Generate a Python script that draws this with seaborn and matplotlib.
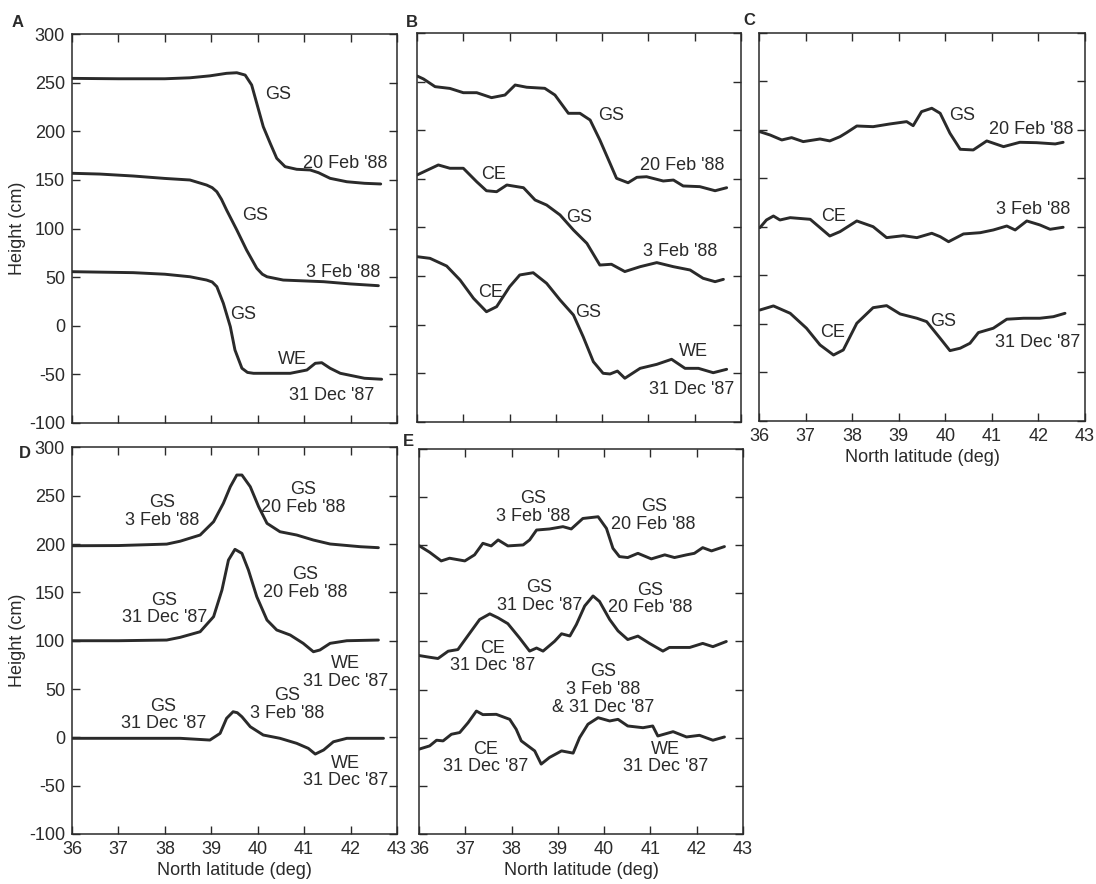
import matplotlib
matplotlib.use("Agg")
import matplotlib.pyplot as plt
import pandas as pd
import seaborn as sns

# ---------------- profile data: latitude (deg N) and height (cm) ----------------
# Panel A
A_20FEB_LAT = [36.0, 37.0, 38.0, 38.54, 38.97, 39.33, 39.55, 39.73, 39.87, 39.98, 40.12, 40.27, 40.41, 40.59, 40.84, 41.13, 41.31, 41.56, 41.92, 42.3, 42.65]
A_20FEB_H = [254.4, 254, 254, 255, 257, 259.6, 260.2, 257.8, 247.6, 228.7, 204.7, 187.6, 172.2, 163.6, 160.9, 160.2, 157.4, 151.6, 148.1, 146.5, 145.8]
A_3FEB_LAT = [36.0, 36.6, 37.32, 38.0, 38.54, 38.9, 39.02, 39.12, 39.22, 39.33, 39.55, 39.76, 39.98, 40.1, 40.2, 40.55, 41.42, 42.0, 42.6]
A_3FEB_H = [156.8, 156, 154, 151.5, 149.9, 144.7, 142, 137.8, 130, 119, 98.5, 77.9, 59.1, 53, 50.4, 47, 45.3, 43, 41.2]
A_31DEC_LAT = [36.0, 36.8, 37.32, 38.0, 38.54, 38.9, 39.02, 39.12, 39.26, 39.41, 39.51, 39.66, 39.78, 39.91, 40.7, 41.06, 41.24, 41.38, 41.56, 41.78, 42.3, 42.67]
A_31DEC_H = [55.6, 55, 54.6, 53, 50.4, 47, 45, 40.2, 23.1, -0.9, -24.9, -43.7, -48, -48.9, -48.9, -45.5, -38.6, -38, -43.7, -48.9, -54, -55]

# Panel B
B_20FEB_LAT = [36.0, 36.14, 36.39, 36.71, 37.0, 37.29, 37.61, 37.9, 38.12, 38.37, 38.76, 38.98, 39.27, 39.52, 39.74, 39.95, 40.17, 40.31, 40.56, 40.75, 40.96, 41.32, 41.54, 41.75, 42.11, 42.44, 42.69]
B_20FEB_H = [255.8, 252.7, 244.8, 243, 238.6, 238.6, 233.5, 236.2, 246.5, 244.2, 243.1, 236.2, 217.4, 217.4, 210.5, 190, 166, 150.6, 146, 151.6, 152.2, 147.8, 148.8, 142.7, 142, 137.8, 140.9]
B_3FEB_LAT = [36.0, 36.46, 36.71, 37.0, 37.29, 37.5, 37.72, 37.94, 38.3, 38.55, 38.8, 39.09, 39.38, 39.67, 39.95, 40.2, 40.49, 40.82, 41.18, 41.54, 41.9, 42.18, 42.44, 42.62]
B_3FEB_H = [154, 164.3, 160.9, 160.9, 147, 137.8, 136.8, 143.7, 140.9, 128.3, 123.1, 112.9, 97.4, 83.7, 61.4, 62.2, 54.7, 59.7, 63.9, 59.7, 56.3, 47.8, 44.3, 46.7]
B_31DEC_LAT = [36.0, 36.28, 36.64, 36.93, 37.22, 37.5, 37.72, 38.0, 38.22, 38.51, 38.8, 39.09, 39.38, 39.59, 39.81, 40.02, 40.17, 40.33, 40.49, 40.82, 41.18, 41.5, 41.79, 42.08, 42.4, 42.69]
B_31DEC_H = [70, 68.3, 60.4, 46, 27.2, 13.4, 18.6, 39.1, 51.2, 53.5, 42.6, 25.5, 10, -12.3, -38, -49.9, -50.6, -47.6, -55, -44.8, -40.7, -35.5, -44.8, -44.8, -49.3, -45.8]

# Panel C
C_20FEB_LAT = [36.02, 36.24, 36.49, 36.7, 36.95, 37.31, 37.52, 37.74, 37.88, 38.1, 38.45, 38.81, 39.17, 39.31, 39.49, 39.71, 39.89, 40.1, 40.32, 40.6, 40.89, 41.25, 41.6, 41.96, 42.36, 42.53]
C_20FEB_H = [198.2, 194.8, 189.7, 192.1, 188, 190.7, 188.7, 193.1, 197.2, 204.1, 203.4, 206.2, 208.6, 204.4, 218.9, 222.4, 217.2, 196.6, 180.1, 179.4, 188.7, 182.8, 187.3, 186.9, 185.6, 187.3]
C_3FEB_LAT = [36.02, 36.16, 36.31, 36.45, 36.67, 37.1, 37.31, 37.52, 37.74, 38.1, 38.45, 38.74, 39.1, 39.39, 39.71, 39.89, 40.07, 40.39, 40.75, 41.03, 41.32, 41.5, 41.75, 42.03, 42.25, 42.53]
C_3FEB_H = [99.3, 107.2, 111.3, 107.2, 109.6, 107.9, 99.3, 90.7, 95.2, 106.2, 100.3, 89, 91, 89, 93.5, 90, 84.8, 92.8, 94.1, 96.9, 101, 96.9, 106.2, 102.1, 97.6, 99.7]
C_31DEC_LAT = [36.02, 36.31, 36.67, 37.02, 37.31, 37.6, 37.81, 38.1, 38.45, 38.74, 39.03, 39.39, 39.6, 39.89, 40.1, 40.32, 40.53, 40.71, 41.03, 41.32, 41.68, 42.03, 42.32, 42.57]
C_31DEC_H = [14.4, 18.6, 11, -4.4, -21.6, -32, -26.8, 0.7, 16.8, 18.9, 10.3, 5.9, 2.4, -14.8, -27.5, -25, -19.9, -8.9, -4.4, 4.9, 5.9, 5.9, 7.5, 11]

# Panel D
D_TOP_LAT = [36.01, 37.0, 38.04, 38.33, 38.76, 39.05, 39.26, 39.41, 39.55, 39.66, 39.84, 40.02, 40.2, 40.48, 40.84, 41.2, 41.56, 42.21, 42.6]
D_TOP_H = [198.3, 198.5, 200, 203, 209.4, 223.2, 242.2, 259.4, 271.5, 271.5, 259.4, 238.7, 221.5, 212.8, 209.4, 204.2, 200.1, 197.3, 196.3]
D_MID_LAT = [36.01, 37.0, 38.04, 38.33, 38.76, 39.05, 39.23, 39.37, 39.51, 39.66, 39.8, 39.98, 40.2, 40.41, 40.7, 40.98, 41.2, 41.34, 41.56, 41.92, 42.6]
D_MID_H = [100, 100, 100.7, 103.5, 109.3, 124.9, 152.5, 183.5, 194.6, 190.4, 173.2, 145.6, 121.4, 111.1, 105.9, 97.3, 88.6, 90.4, 97.3, 100, 100.7]
D_BOT_LAT = [36.01, 37.0, 38.0, 38.33, 38.97, 39.19, 39.33, 39.47, 39.56, 39.66, 39.84, 40.12, 40.48, 40.84, 41.09, 41.24, 41.42, 41.63, 41.92, 42.71]
D_BOT_H = [-1, -1, -1, -1, -2.8, 4.1, 19.7, 26.5, 25.5, 21.3, 11, 2.4, -1, -6.2, -11.4, -17.3, -13.1, -4.6, -1, -1]

# Panel E
E_TOP_LAT = [36.0, 36.23, 36.48, 36.66, 36.99, 37.2, 37.38, 37.56, 37.71, 37.92, 38.25, 38.39, 38.54, 38.82, 39.11, 39.29, 39.54, 39.87, 40.05, 40.19, 40.33, 40.51, 40.73, 41.02, 41.31, 41.52, 41.78, 41.95, 42.13, 42.32, 42.6]
E_TOP_H = [199.6, 192.7, 183.7, 186.5, 183.7, 190, 202, 199.3, 205.5, 199.3, 200.3, 205.5, 215.8, 216.9, 219.3, 216.9, 227.8, 229.6, 217.5, 196.8, 188.2, 187.2, 191.6, 185.8, 190, 187.2, 190, 191.6, 197.5, 194.1, 198.6]
E_MID_LAT = [36.0, 36.23, 36.41, 36.63, 36.84, 37.1, 37.31, 37.53, 37.71, 37.92, 38.17, 38.39, 38.54, 38.68, 38.93, 39.08, 39.26, 39.4, 39.58, 39.76, 39.9, 40.12, 40.3, 40.51, 40.73, 40.98, 41.27, 41.41, 41.85, 42.13, 42.35, 42.64]
E_MID_H = [85.4, 83.6, 82.3, 89.9, 91.6, 108.9, 122.8, 128.7, 124.5, 118.5, 103.8, 90, 93.2, 90, 100.2, 108, 105.7, 117.6, 136.9, 147.3, 141.6, 122.8, 111, 102, 105.6, 98, 90, 93.8, 93.8, 98, 94.6, 100]
E_BOT_LAT = [36.0, 36.23, 36.38, 36.52, 36.7, 36.88, 37.06, 37.24, 37.38, 37.67, 37.96, 38.1, 38.21, 38.5, 38.64, 38.82, 39.08, 39.33, 39.47, 39.65, 39.87, 40.12, 40.3, 40.51, 40.84, 41.05, 41.16, 41.49, 41.78, 42.06, 42.35, 42.6]
E_BOT_H = [-11.9, -8.5, -2.6, -3.3, 3.6, 5.4, 15.6, 27.7, 24, 24.3, 19.1, 8.8, -3.3, -13.7, -27.4, -20.5, -13.7, -16, 0.1, 14, 20.8, 17.4, 19.1, 12.2, 10.4, 12.2, 1.8, 6.3, 0.8, 2.5, -2.6, 0.8]

X_TICKS = [36, 37, 38, 39, 40, 41, 42, 43]
Y_TICKS = [-100, -50, 0, 50, 100, 150, 200, 250, 300]
X_LABEL = "North latitude (deg)"
Y_LABEL = "Height (cm)"

PANELS = {
    "A": [("20 Feb '88", A_20FEB_LAT, A_20FEB_H), ("3 Feb '88", A_3FEB_LAT, A_3FEB_H), ("31 Dec '87", A_31DEC_LAT, A_31DEC_H)],
    "B": [("20 Feb '88", B_20FEB_LAT, B_20FEB_H), ("3 Feb '88", B_3FEB_LAT, B_3FEB_H), ("31 Dec '87", B_31DEC_LAT, B_31DEC_H)],
    "C": [("20 Feb '88", C_20FEB_LAT, C_20FEB_H), ("3 Feb '88", C_3FEB_LAT, C_3FEB_H), ("31 Dec '87", C_31DEC_LAT, C_31DEC_H)],
    "D": [("top", D_TOP_LAT, D_TOP_H), ("middle", D_MID_LAT, D_MID_H), ("bottom", D_BOT_LAT, D_BOT_H)],
    "E": [("top", E_TOP_LAT, E_TOP_H), ("middle", E_MID_LAT, E_MID_H), ("bottom", E_BOT_LAT, E_BOT_H)],
}

# feature labels placed in data coordinates (latitude, height)
LABELS = {
    "A": [("GS", 40.44, 238), ("20 Feb '88", 41.88, 167), ("GS", 39.94, 113), ("3 Feb '88", 41.84, 55),
          ("GS", 39.69, 12), ("WE", 40.74, -35), ("31 Dec '87", 41.6, -72)],
    "B": [("GS", 40.2, 215), ("20 Feb '88", 41.72, 164), ("CE", 37.65, 154), ("GS", 39.51, 110),
          ("3 Feb '88", 41.68, 75), ("CE", 37.58, 33), ("GS", 39.7, 13), ("WE", 41.97, -28),
          ("31 Dec '87", 41.93, -67)],
    "C": [("GS", 40.37, 215), ("20 Feb '88", 41.84, 200), ("CE", 37.61, 111), ("3 Feb '88", 41.89, 118),
          ("CE", 37.58, -9), ("GS", 39.96, 3), ("31 Dec '87", 41.98, -19)],
    "D": [("GS\n3 Feb '88", 37.95, 234), ("GS\n20 Feb '88", 40.98, 247), ("GS\n31 Dec '87", 37.99, 133),
          ("GS\n20 Feb '88", 41.03, 159), ("WE\n31 Dec '87", 41.9, 67), ("GS\n3 Feb '88", 40.63, 34),
          ("GS\n31 Dec '87", 37.97, 23), ("WE\n31 Dec '87", 41.9, -36)],
    "E": [("GS\n3 Feb '88", 38.46, 239), ("GS\n20 Feb '88", 41.07, 231), ("GS\n31 Dec '87", 38.6, 147),
          ("GS\n20 Feb '88", 41.0, 144), ("CE\n31 Dec '87", 37.59, 84), ("GS\n3 Feb '88\n& 31 Dec '87", 39.97, 50),
          ("CE\n31 Dec '87", 37.44, -21), ("WE\n31 Dec '87", 41.33, -21)],
}

# ---------------- styling ----------------
INK = "#2a2a2a"
sns.set_theme(style="ticks")
plt.rcParams["font.family"] = ["Liberation Sans", "DejaVu Sans"]
plt.rcParams["axes.unicode_minus"] = False
plt.rcParams["text.color"] = INK
plt.rcParams["axes.labelcolor"] = INK
plt.rcParams["xtick.color"] = INK
plt.rcParams["ytick.color"] = INK
plt.rcParams["axes.edgecolor"] = INK

FS = 13
fig = plt.figure(figsize=(10.96, 8.84), dpi=100)
fig.patch.set_facecolor("white")

# axes rectangles [left, bottom, width, height] in figure fractions
RECTS = {
    "A": [0.0657, 0.5215, 0.2965, 0.4400],
    "B": [0.3805, 0.5226, 0.2956, 0.4401],
    "C": [0.6925, 0.5238, 0.2975, 0.4389],
    "D": [0.0657, 0.0566, 0.2965, 0.4372],
    "E": [0.3823, 0.0566, 0.2956, 0.4355],
}
LETTER_POS = {"A": (0.016, 0.974), "B": (0.376, 0.975), "C": (0.684, 0.977),
              "D": (0.023, 0.487), "E": (0.373, 0.501)}
SHOW_Y = {"A", "D"}
SHOW_X = {"C", "D", "E"}

for key, rect in RECTS.items():
    ax = fig.add_axes(rect)
    frames = []
    for name, lat, h in PANELS[key]:
        frames.append(pd.DataFrame({"lat": lat, "height": h, "profile": name}))
    df = pd.concat(frames, ignore_index=True)
    sns.lineplot(data=df, x="lat", y="height", units="profile", estimator=None,
                 sort=False, color=INK, linewidth=2.1, ax=ax,
                 solid_joinstyle="round", solid_capstyle="round")

    ax.set_xlim(36, 43)
    ax.set_ylim(-100, 300)
    ax.set_xticks(X_TICKS)
    ax.set_yticks(Y_TICKS)
    ax.tick_params(direction="in", top=True, right=True, length=6, width=1.0,
                   labelsize=FS, pad=5,
                   labelleft=key in SHOW_Y, labelbottom=key in SHOW_X)
    for sp in ax.spines.values():
        sp.set_linewidth(1.1)
        sp.set_color(INK)

    ax.set_xlabel(X_LABEL if key in SHOW_X else "", fontsize=FS, labelpad=3)
    ax.set_ylabel(Y_LABEL if key in SHOW_Y else "", fontsize=FS, labelpad=2)

    for text, x, y in LABELS[key]:
        ax.text(x, y, text, ha="center", va="center", fontsize=FS,
                linespacing=1.05, color=INK)

    lx, ly = LETTER_POS[key]
    fig.text(lx, ly, key, fontsize=12, fontweight="bold", ha="center", va="center", color=INK)

fig.savefig("out.png", dpi=100, facecolor="white")
